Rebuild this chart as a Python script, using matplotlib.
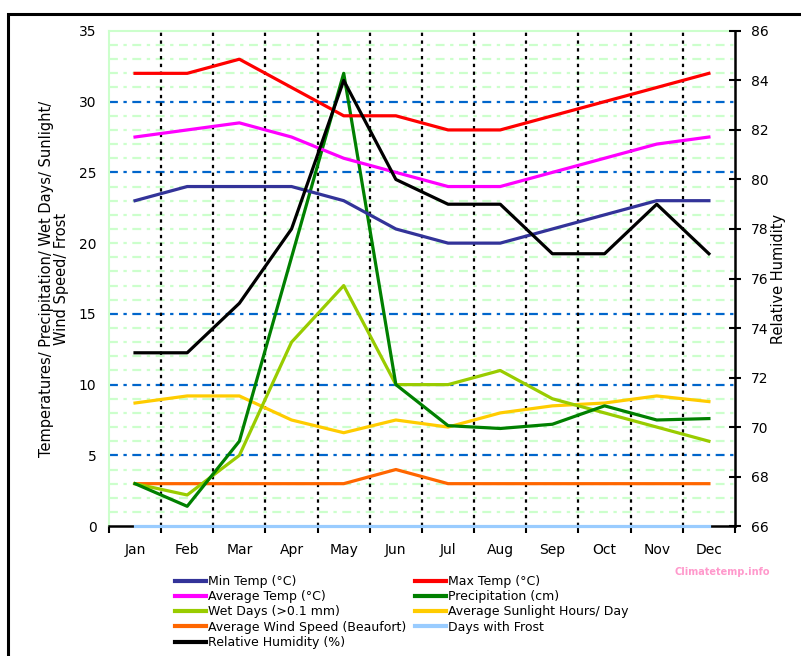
import matplotlib
matplotlib.use("Agg")
import matplotlib.pyplot as plt
from matplotlib.lines import Line2D
from matplotlib.patches import Rectangle
import numpy as np

months = ["Jan", "Feb", "Mar", "Apr", "May", "Jun", "Jul", "Aug", "Sep", "Oct", "Nov", "Dec"]

min_temp = [23, 24, 24, 24, 23, 21, 20, 20, 21, 22, 23, 23]
max_temp = [32, 32, 33, 31, 29, 29, 28, 28, 29, 30, 31, 32]
avg_temp = [27.5, 28, 28.5, 27.5, 26, 25, 24, 24, 25, 26, 27, 27.5]
precip = [3, 1.4, 6, 19, 32, 10, 7.1, 6.9, 7.2, 8.5, 7.5, 7.6]
wet_days = [3, 2.2, 5, 13, 17, 10, 10, 11, 9, 8, 7, 6]
sunlight = [8.7, 9.2, 9.2, 7.5, 6.6, 7.5, 7, 8, 8.5, 8.7, 9.2, 8.8]
wind = [3, 3, 3, 3, 3, 4, 3, 3, 3, 3, 3, 3]
frost = [0, 0, 0, 0, 0, 0, 0, 0, 0, 0, 0, 0]
humidity = [73, 73, 75, 78, 84, 80, 79, 79, 77, 77, 79, 77]

plt.rcParams["font.family"] = "DejaVu Sans"
plt.rcParams["font.size"] = 10

fig = plt.figure(figsize=(8.01, 6.56), dpi=100)
ax = fig.add_axes([0.136, 0.198, 0.7816, 0.7549])

# outer frame (only top and left edges are visible)
fig.patches.append(Rectangle((8 / 801, -0.1), 1.2, (1 - 14 / 656) + 0.1,
                             transform=fig.transFigure, fill=False,
                             edgecolor="black", lw=2.2))

x = np.arange(12) + 0.5
lw = 2.3

# horizontal grid
for v in range(1, 35):
    if v % 5 == 0 and v != 20:
        ax.axhline(v, color="#0066cc", lw=1.6, ls=(0, (4, 2.5, 1.5, 2.5)), zorder=1)
    else:
        ax.axhline(v, color="#ccffcc", lw=1.6, ls=(0, (4, 2.5, 1.5, 2.5)), zorder=1)
ax.vlines(np.arange(1, 12), 0, 35, colors="black", lw=1.6, ls=(0, (1.5, 2)), zorder=1.5)

ax.plot(x, frost, color="#99ccff", lw=lw, zorder=3, clip_on=False)
ax.plot(x, wind, color="#ff6600", lw=lw, zorder=3)
ax.plot(x, sunlight, color="#ffcc00", lw=lw, zorder=3)
ax.plot(x, wet_days, color="#99cc00", lw=lw, zorder=3)
ax.plot(x, precip, color="#008000", lw=lw, zorder=3)
ax.plot(x, min_temp, color="#333399", lw=lw, zorder=3)
ax.plot(x, avg_temp, color="#ff00ff", lw=lw, zorder=3)
ax.plot(x, max_temp, color="#ff0000", lw=lw, zorder=3)

ax.set_xlim(0, 12)
ax.set_ylim(0, 35)
ax.set_xticks(x)
ax.set_xticklabels(months)
ax.set_xticks(np.arange(0, 13), minor=True)
ax.tick_params(axis="x", which="major", length=0, pad=12, labelsize=10)
ax.tick_params(axis="x", which="minor", length=5, width=1.5, direction="out")
ax.set_yticks(range(0, 36, 5))
ax.tick_params(axis="y", length=0, pad=9, labelsize=10)
for s in ["left", "top"]:
    ax.spines[s].set_color("#ccffcc")
    ax.spines[s].set_linewidth(1.5)
ax.spines["right"].set_visible(False)
ax.spines["bottom"].set_linewidth(1.8)
ax.set_ylabel("Temperatures/ Precipitation/ Wet Days/ Sunlight/\nWind Speed/ Frost",
              fontsize=10.5, labelpad=7, linespacing=1.0)

ax2 = ax.twinx()
ax2.plot(x, humidity, color="black", lw=lw, zorder=4)
ax2.set_ylim(66, 86)
ax2.set_yticks(range(66, 87, 2))
ax2.tick_params(axis="y", direction="inout", length=9, width=1.5, pad=7, labelsize=10)
ax2.spines["right"].set_linewidth(1.8)
for s in ["left", "top", "bottom"]:
    ax2.spines[s].set_visible(False)
ax2.set_ylabel("Relative Humidity", fontsize=10.5, labelpad=2)

def h(c):
    return Line2D([], [], color=c, lw=3)

fig.legend([h("#333399"), h("#ff00ff"), h("#99cc00"), h("#ff6600"), h("black")],
           ["Min Temp (°C)", "Average Temp (°C)", "Wet Days (>0.1 mm)",
            "Average Wind Speed (Beaufort)", "Relative Humidity (%)"],
           loc="upper left", bbox_to_anchor=(170 / 801, 1 - 570 / 656),
           frameon=False, handlelength=2.5, handletextpad=0.15,
           labelspacing=0.18, borderaxespad=0, fontsize=9)
fig.legend([h("#ff0000"), h("#008000"), h("#ffcc00"), h("#99ccff")],
           ["Max Temp (°C)", "Precipitation (cm)", "Average Sunlight Hours/ Day",
            "Days with Frost"],
           loc="upper left", bbox_to_anchor=(410 / 801, 1 - 570 / 656),
           frameon=False, handlelength=2.5, handletextpad=0.15,
           labelspacing=0.18, borderaxespad=0, fontsize=9)

fig.text(722 / 801, 1 - 572 / 656, "Climatetemp.info", color="#ff99cc",
         fontsize=7, fontweight="bold", ha="center", va="center")

fig.savefig("out.png", dpi=100, facecolor="white")
